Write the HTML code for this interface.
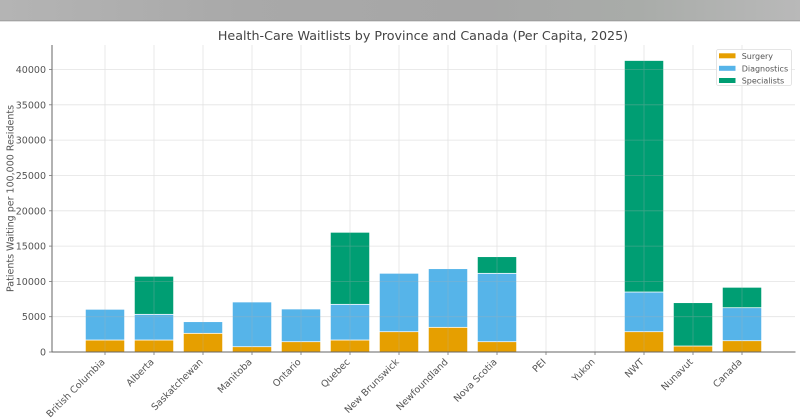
<!DOCTYPE html>
<html>
<head>
<meta charset="utf-8">
<style>
html,body{margin:0;padding:0;background:#fff;}
svg{display:block;}
text{font-family:"DejaVu Sans","Liberation Sans",sans-serif;}
</style>
</head>
<body>
<svg width="800" height="418" viewBox="0 0 800 418" xmlns="http://www.w3.org/2000/svg">
<defs>
<linearGradient id="top" x1="0" y1="0" x2="1" y2="0">
<stop offset="0" stop-color="#b4b4b4"/>
<stop offset="0.3" stop-color="#a9a9a9"/>
<stop offset="0.6" stop-color="#a6a6a6"/>
<stop offset="0.8" stop-color="#a9aca9"/>
<stop offset="1" stop-color="#b9b9b9"/>
</linearGradient>
</defs>
<rect x="0" y="0" width="800" height="418" fill="#ffffff"/>
<rect x="0" y="0" width="800" height="21" fill="url(#top)"/>
<rect x="0" y="20" width="800" height="1.5" fill="#9a9a9a" opacity="0.6"/>

<text x="423" y="40" font-size="12.7" fill="#444" text-anchor="middle">Health-Care Waitlists by Province and Canada (Per Capita, 2025)</text>

<!-- bars -->
<g stroke="#ffffff" stroke-width="0.7">
<!-- BC 105 -->
<rect x="85.4" y="340" width="39.2" height="12" fill="#E69F00"/>
<rect x="85.4" y="309.3" width="39.2" height="30.7" fill="#56B4E9"/>
<!-- Alberta 154 -->
<rect x="134.4" y="340" width="39.2" height="12" fill="#E69F00"/>
<rect x="134.4" y="314.3" width="39.2" height="25.7" fill="#56B4E9"/>
<rect x="134.4" y="276.3" width="39.2" height="38" fill="#009E73"/>
<!-- Sask 203 -->
<rect x="183.4" y="333.3" width="39.2" height="18.7" fill="#E69F00"/>
<rect x="183.4" y="321.7" width="39.2" height="11.6" fill="#56B4E9"/>
<!-- Manitoba 252 -->
<rect x="232.4" y="346.7" width="39.2" height="5.3" fill="#E69F00"/>
<rect x="232.4" y="302" width="39.2" height="44.7" fill="#56B4E9"/>
<!-- Ontario 301 -->
<rect x="281.4" y="341.7" width="39.2" height="10.3" fill="#E69F00"/>
<rect x="281.4" y="309" width="39.2" height="32.7" fill="#56B4E9"/>
<!-- Quebec 350 -->
<rect x="330.4" y="340" width="39.2" height="12" fill="#E69F00"/>
<rect x="330.4" y="304.3" width="39.2" height="35.7" fill="#56B4E9"/>
<rect x="330.4" y="232.3" width="39.2" height="72" fill="#009E73"/>
<!-- NB 399 -->
<rect x="379.4" y="331.7" width="39.2" height="20.3" fill="#E69F00"/>
<rect x="379.4" y="273.3" width="39.2" height="58.4" fill="#56B4E9"/>
<!-- NFL 448 -->
<rect x="428.4" y="327.3" width="39.2" height="24.7" fill="#E69F00"/>
<rect x="428.4" y="268.7" width="39.2" height="58.6" fill="#56B4E9"/>
<!-- NS 497 -->
<rect x="477.4" y="341.7" width="39.2" height="10.3" fill="#E69F00"/>
<rect x="477.4" y="273.3" width="39.2" height="68.4" fill="#56B4E9"/>
<rect x="477.4" y="256.7" width="39.2" height="16.6" fill="#009E73"/>
<!-- NWT 644 -->
<rect x="624.4" y="331.7" width="39.2" height="20.3" fill="#E69F00"/>
<rect x="624.4" y="292" width="39.2" height="39.7" fill="#56B4E9"/>
<rect x="624.4" y="60.5" width="39.2" height="231.5" fill="#009E73"/>
<!-- Nunavut 693 -->
<rect x="673.4" y="346" width="39.2" height="6" fill="#E69F00"/>
<rect x="673.4" y="302.7" width="39.2" height="43.3" fill="#009E73"/>
<!-- Canada 742 -->
<rect x="722.4" y="340.7" width="39.2" height="11.3" fill="#E69F00"/>
<rect x="722.4" y="307.7" width="39.2" height="33" fill="#56B4E9"/>
<rect x="722.4" y="287.3" width="39.2" height="20.4" fill="#009E73"/>
</g>

<!-- grid (drawn over bars, faint) -->
<g stroke="#b0b0b0" stroke-width="0.8" opacity="0.35">
<line x1="52" y1="316.7" x2="795" y2="316.7"/>
<line x1="52" y1="281.4" x2="795" y2="281.4"/>
<line x1="52" y1="246.1" x2="795" y2="246.1"/>
<line x1="52" y1="210.8" x2="795" y2="210.8"/>
<line x1="52" y1="175.4" x2="795" y2="175.4"/>
<line x1="52" y1="140.1" x2="795" y2="140.1"/>
<line x1="52" y1="104.8" x2="795" y2="104.8"/>
<line x1="52" y1="69.5" x2="795" y2="69.5"/>
<line x1="105" y1="45" x2="105" y2="352"/>
<line x1="154" y1="45" x2="154" y2="352"/>
<line x1="203" y1="45" x2="203" y2="352"/>
<line x1="252" y1="45" x2="252" y2="352"/>
<line x1="301" y1="45" x2="301" y2="352"/>
<line x1="350" y1="45" x2="350" y2="352"/>
<line x1="399" y1="45" x2="399" y2="352"/>
<line x1="448" y1="45" x2="448" y2="352"/>
<line x1="497" y1="45" x2="497" y2="352"/>
<line x1="546" y1="45" x2="546" y2="352"/>
<line x1="595" y1="45" x2="595" y2="352"/>
<line x1="644" y1="45" x2="644" y2="352"/>
<line x1="693" y1="45" x2="693" y2="352"/>
<line x1="742" y1="45" x2="742" y2="352"/>
</g>

<!-- spines -->
<g stroke="#666" stroke-width="1">
<line x1="52" y1="45" x2="52" y2="352.5"/>
<line x1="51.5" y1="352" x2="795.5" y2="352"/>
</g>
<!-- ticks -->
<g stroke="#777" stroke-width="0.8">
<line x1="49" y1="352" x2="52" y2="352"/>
<line x1="49" y1="316.7" x2="52" y2="316.7"/>
<line x1="49" y1="281.4" x2="52" y2="281.4"/>
<line x1="49" y1="246.1" x2="52" y2="246.1"/>
<line x1="49" y1="210.8" x2="52" y2="210.8"/>
<line x1="49" y1="175.4" x2="52" y2="175.4"/>
<line x1="49" y1="140.1" x2="52" y2="140.1"/>
<line x1="49" y1="104.8" x2="52" y2="104.8"/>
<line x1="49" y1="69.5" x2="52" y2="69.5"/>
<line x1="105" y1="352" x2="105" y2="355"/>
<line x1="154" y1="352" x2="154" y2="355"/>
<line x1="203" y1="352" x2="203" y2="355"/>
<line x1="252" y1="352" x2="252" y2="355"/>
<line x1="301" y1="352" x2="301" y2="355"/>
<line x1="350" y1="352" x2="350" y2="355"/>
<line x1="399" y1="352" x2="399" y2="355"/>
<line x1="448" y1="352" x2="448" y2="355"/>
<line x1="497" y1="352" x2="497" y2="355"/>
<line x1="546" y1="352" x2="546" y2="355"/>
<line x1="595" y1="352" x2="595" y2="355"/>
<line x1="644" y1="352" x2="644" y2="355"/>
<line x1="693" y1="352" x2="693" y2="355"/>
<line x1="742" y1="352" x2="742" y2="355"/>
</g>

<!-- y tick labels -->
<g font-size="9.5" fill="#555" text-anchor="end">
<text x="46" y="355.5">0</text>
<text x="46" y="320.2">5000</text>
<text x="46" y="284.9">10000</text>
<text x="46" y="249.6">15000</text>
<text x="46" y="214.3">20000</text>
<text x="46" y="178.9">25000</text>
<text x="46" y="143.6">30000</text>
<text x="46" y="108.3">35000</text>
<text x="46" y="73">40000</text>
</g>

<text transform="translate(13.5,198.5) rotate(-90)" font-size="9.5" fill="#555" text-anchor="middle">Patients Waiting per 100,000 Residents</text>

<!-- x tick labels -->
<g font-size="9.5" fill="#555" text-anchor="end">
<text transform="translate(105.5,362.5) rotate(-45)">British Columbia</text>
<text transform="translate(154.5,362.5) rotate(-45)">Alberta</text>
<text transform="translate(203.5,362.5) rotate(-45)">Saskatchewan</text>
<text transform="translate(252.5,362.5) rotate(-45)">Manitoba</text>
<text transform="translate(301.5,362.5) rotate(-45)">Ontario</text>
<text transform="translate(350.5,362.5) rotate(-45)">Quebec</text>
<text transform="translate(399.5,362.5) rotate(-45)">New Brunswick</text>
<text transform="translate(448.5,362.5) rotate(-45)">Newfoundland</text>
<text transform="translate(497.5,362.5) rotate(-45)">Nova Scotia</text>
<text transform="translate(546.5,362.5) rotate(-45)">PEI</text>
<text transform="translate(595.5,362.5) rotate(-45)">Yukon</text>
<text transform="translate(644.5,362.5) rotate(-45)">NWT</text>
<text transform="translate(693.5,362.5) rotate(-45)">Nunavut</text>
<text transform="translate(742.5,362.5) rotate(-45)">Canada</text>
</g>

<!-- legend -->
<rect x="716.5" y="49.5" width="75" height="36" rx="2" fill="#ffffff" fill-opacity="0.85" stroke="#dddddd" stroke-width="0.8"/>
<rect x="719" y="53.3" width="16.5" height="5" fill="#E69F00"/>
<rect x="719" y="65.8" width="16.5" height="5" fill="#56B4E9"/>
<rect x="719" y="78" width="16.5" height="5" fill="#009E73"/>
<g font-size="8" fill="#555">
<text x="741.7" y="58.8">Surgery</text>
<text x="741.7" y="71.3">Diagnostics</text>
<text x="741.7" y="83.5">Specialists</text>
</g>
</svg>
</body>
</html>
